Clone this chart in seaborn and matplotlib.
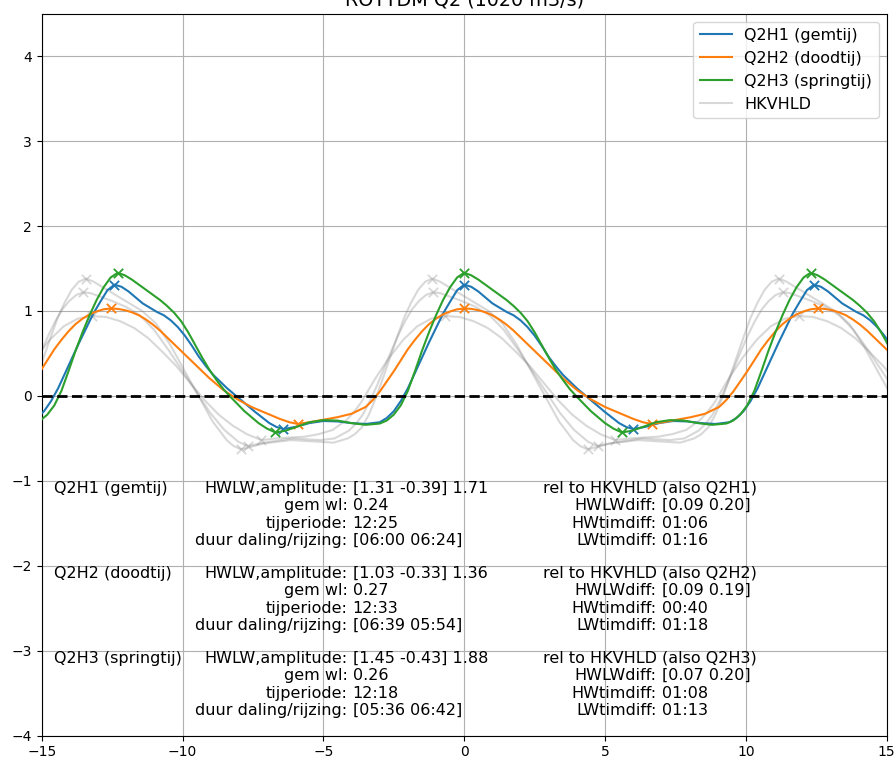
import numpy as np
import matplotlib
matplotlib.use("Agg")
import matplotlib.pyplot as plt
import matplotlib.transforms as mtransforms
import seaborn as sns

title = "ROTTDM Q2 (1020 m3/s)"
names = ["Q2H1 (gemtij)", "Q2H2 (doodtij)", "Q2H3 (springtij)"]
ref_name = "HKVHLD"
colors = ["#1f77b4", "#ff7f0e", "#2ca02c"]

# tidal statistics per scenario
hwlw = [[1.31, -0.39], [1.03, -0.33], [1.45, -0.43]]
amplitude = [1.71, 1.36, 1.88]
mean_wl = [0.24, 0.27, 0.26]
tide_period = ["12:25", "12:33", "12:18"]
fall_rise = [["06:00", "06:24"], ["06:39", "05:54"], ["05:36", "06:42"]]
hwlw_diff = [[0.09, 0.20], [0.09, 0.19], [0.07, 0.20]]
hw_timediff = ["01:06", "00:40", "01:08"]
lw_timediff = ["01:16", "01:18", "01:13"]

# one tidal cycle per scenario: hours relative to HW, previous LW -> next LW
q2h1_t = [-6.42, -6.0, -5.5, -5.0, -4.5, -4.0, -3.5, -3.0, -2.75, -2.5, -2.25, -2.0,
          -1.75, -1.5, -1.25, -1.0, -0.75, -0.5, -0.25, 0.0, 0.25, 0.5, 0.75, 1.0,
          1.25, 1.5, 1.75, 2.0, 2.25, 2.5, 2.75, 3.0, 3.25, 3.5, 3.75, 4.0, 4.5,
          5.0, 5.5, 5.75, 6.0]
q2h1_wl = [-0.39, -0.365, -0.32, -0.295, -0.30, -0.32, -0.33, -0.31, -0.26, -0.18, -0.06, 0.09,
           0.27, 0.45, 0.63, 0.80, 0.97, 1.11, 1.245, 1.31, 1.285, 1.23, 1.16, 1.09,
           1.04, 0.99, 0.95, 0.89, 0.81, 0.71, 0.59, 0.46, 0.35, 0.25, 0.17, 0.09, -0.05,
           -0.19, -0.32, -0.365, -0.39]

q2h2_t = [-5.9, -5.5, -5.0, -4.5, -4.0, -3.5, -3.25, -3.0, -2.75, -2.5, -2.25, -2.0,
          -1.75, -1.5, -1.25, -1.0, -0.75, -0.5, -0.25, 0.0, 0.25, 0.5, 0.75, 1.0,
          1.25, 1.5, 1.75, 2.0, 2.5, 3.0, 3.5, 4.0, 4.5, 5.0, 5.5, 6.0, 6.35, 6.65]
q2h2_wl = [-0.33, -0.31, -0.28, -0.25, -0.21, -0.13, -0.05, 0.05, 0.17, 0.29, 0.42, 0.55,
           0.66, 0.76, 0.845, 0.91, 0.96, 0.995, 1.02, 1.03, 1.025, 1.01, 0.985, 0.95,
           0.90, 0.84, 0.77, 0.69, 0.53, 0.37, 0.21, 0.07, -0.04, -0.13, -0.20, -0.27, -0.31, -0.33]

q2h3_t = [-6.7, -6.35, -6.0, -5.5, -5.0, -4.5, -4.0, -3.5, -3.0, -2.75, -2.5, -2.25,
          -2.0, -1.75, -1.5, -1.25, -1.0, -0.75, -0.5, -0.25, 0.0, 0.25, 0.5, 0.75,
          1.0, 1.25, 1.5, 1.75, 2.0, 2.25, 2.5, 2.75, 3.0, 3.25, 3.5, 3.75, 4.0,
          4.5, 5.0, 5.3, 5.6]
q2h3_wl = [-0.43, -0.41, -0.37, -0.31, -0.285, -0.29, -0.32, -0.34, -0.325, -0.29, -0.22, -0.11,
           0.06, 0.29, 0.53, 0.75, 0.95, 1.13, 1.28, 1.395, 1.45, 1.42, 1.37, 1.31,
           1.25, 1.19, 1.13, 1.06, 0.98, 0.88, 0.75, 0.60, 0.45, 0.31, 0.19, 0.08, -0.01,
           -0.18, -0.32, -0.385, -0.43]

# reference station HKVHLD, one cycle per scenario relative to its own HW
hkv1_t = [-6.58, -6.0, -5.0, -4.0, -3.5, -3.0, -2.75, -2.5, -2.25, -2.0, -1.75, -1.5,
          -1.25, -1.0, -0.75, -0.5, -0.25, 0.0, 0.25, 0.5, 1.0, 1.5, 2.0, 2.5, 3.0,
          3.5, 4.0, 4.5, 5.0, 5.5, 5.83]
hkv1_wl = [-0.59, -0.55, -0.50, -0.52, -0.50, -0.41, -0.33, -0.22, -0.06, 0.12, 0.32, 0.52,
           0.71, 0.88, 1.02, 1.12, 1.19, 1.22, 1.21, 1.18, 1.12, 1.05, 0.95, 0.78, 0.55,
           0.30, 0.05, -0.20, -0.40, -0.54, -0.59]

hkv2_t = [-6.53, -6.0, -5.0, -4.5, -4.0, -3.5, -3.25, -3.0, -2.75, -2.5, -2.0, -1.5,
          -1.0, -0.5, 0.0, 0.5, 1.0, 1.5, 2.0, 2.5, 3.0, 3.5, 4.0, 4.5, 5.0, 5.5, 6.02]
hkv2_wl = [-0.52, -0.50, -0.48, -0.45, -0.40, -0.28, -0.19, -0.08, 0.06, 0.20, 0.45, 0.66,
           0.82, 0.91, 0.94, 0.93, 0.88, 0.80, 0.68, 0.52, 0.35, 0.15, -0.05, -0.22, -0.35, -0.45, -0.52]

hkv3_t = [-6.78, -6.0, -5.0, -4.0, -3.5, -3.0, -2.75, -2.5, -2.25, -2.0, -1.75, -1.5,
          -1.25, -1.0, -0.75, -0.5, -0.25, 0.0, 0.25, 0.5, 1.0, 1.5, 2.0, 2.5, 3.0,
          3.5, 4.0, 4.5, 5.0, 5.25, 5.52]
hkv3_wl = [-0.63, -0.56, -0.52, -0.54, -0.55, -0.50, -0.45, -0.37, -0.22, -0.02, 0.21, 0.45,
           0.69, 0.92, 1.10, 1.25, 1.345, 1.38, 1.35, 1.30, 1.20, 1.10, 1.00, 0.85, 0.60,
           0.30, 0.00, -0.30, -0.52, -0.59, -0.63]

cycles = [(q2h1_t, q2h1_wl), (q2h2_t, q2h2_wl), (q2h3_t, q2h3_wl)]
ref_cycles = [(hkv1_t, hkv1_wl), (hkv2_t, hkv2_wl), (hkv3_t, hkv3_wl)]


def hours(hhmm):
    h, m = hhmm.split(":")
    return int(h) + int(m) / 60.0


def repeat_cycle(t, wl, period, shift=0.0, n=2):
    tt = np.concatenate([np.asarray(t) + shift + k * period for k in range(-n, n + 1)])
    ww = np.tile(np.asarray(wl), 2 * n + 1)
    return tt, ww


def extremes(t0, period, lo=-15.0, hi=15.0):
    tt = np.array([t0 + k * period for k in range(-3, 4)])
    return tt[(tt >= lo) & (tt <= hi)]


TXT = 11.5

fig = plt.figure(figsize=(8.96, 7.63), dpi=100)
ax = fig.add_axes([41.7 / 896, 27.3 / 763, 845 / 896, 722.0 / 763])

ref_color = "grey"
for i in range(3):
    period = hours(tide_period[i])
    t_lw = hours(fall_rise[i][0])
    hw, lw = hwlw[i]

    # scenario curve + HW/LW markers
    x, y = repeat_cycle(*cycles[i], period)
    sns.lineplot(x=x, y=y, ax=ax, color=colors[i], label=names[i], sort=False,
                 estimator=None, lw=1.5, zorder=3)
    xs = np.concatenate([extremes(0.0, period), extremes(t_lw, period)])
    ys = np.concatenate([np.full(len(extremes(0.0, period)), hw),
                         np.full(len(extremes(t_lw, period)), lw)])
    sns.scatterplot(x=xs, y=ys, ax=ax, color=colors[i], marker="x", s=45,
                    linewidth=1.3, zorder=3, legend=False)

for i in range(3):
    period = hours(tide_period[i])
    t_lw = hours(fall_rise[i][0])
    hw, lw = hwlw[i]
    ref_hw_t = -hours(hw_timediff[i])
    ref_lw_t = t_lw - hours(lw_timediff[i])
    ref_hw = hw - hwlw_diff[i][0]
    ref_lw = lw - hwlw_diff[i][1]

    x, y = repeat_cycle(*ref_cycles[i], period, shift=ref_hw_t)
    sns.lineplot(x=x, y=y, ax=ax, color=ref_color, alpha=0.3, sort=False,
                 estimator=None, lw=1.5, zorder=2,
                 label=ref_name if i == 0 else None)
    xs = np.concatenate([extremes(ref_hw_t, period), extremes(ref_lw_t, period)])
    ys = np.concatenate([np.full(len(extremes(ref_hw_t, period)), ref_hw),
                         np.full(len(extremes(ref_lw_t, period)), ref_lw)])
    sns.scatterplot(x=xs, y=ys, ax=ax, color=ref_color, alpha=0.3, marker="x", s=45,
                    linewidth=1.3, zorder=2, legend=False)

ax.axhline(0, color="k", ls="--", lw=2, zorder=4)

# statistics text blocks
gap = mtransforms.offset_copy(ax.transData, fig=fig, x=3.6, y=0, units="points")
x_name, x_key1, x_key2 = -14.55, -4.14, 6.84
for i in range(3):
    y0 = -1.0 - i
    hw, lw = hwlw[i]
    keys1 = ["HWLW,amplitude:", "gem wl:", "tijperiode:", "duur daling/rijzing:"]
    vals1 = [f"[{hw:.2f} {lw:.2f}] {amplitude[i]:.2f}", f"{mean_wl[i]:.2f}",
             tide_period[i], f"[{fall_rise[i][0]} {fall_rise[i][1]}]"]
    keys2 = [f"rel to {ref_name}", "HWLWdiff:", "HWtimdiff:", "LWtimdiff:"]
    vals2 = [f"(also {names[i].split()[0]})",
             f"[{hwlw_diff[i][0]:.2f} {hwlw_diff[i][1]:.2f}]",
             hw_timediff[i], lw_timediff[i]]
    ax.text(x_name, y0, names[i], ha="left", va="top", fontsize=TXT)
    ax.text(x_key1, y0, "\n".join(keys1), ha="right", va="top",
            multialignment="right", fontsize=TXT)
    ax.text(x_key1, y0, "\n".join(vals1), ha="left", va="top",
            multialignment="left", fontsize=TXT, transform=gap)
    ax.text(x_key2, y0, "\n".join(keys2), ha="right", va="top",
            multialignment="right", fontsize=TXT)
    ax.text(x_key2, y0, "\n".join(vals2), ha="left", va="top",
            multialignment="left", fontsize=TXT, transform=gap)

ax.set_xlim(-15, 15)
ax.set_ylim(-4, 4.5)
ax.set_xticks([-15, -10, -5, 0, 5, 10, 15])
ax.set_yticks([-4, -3, -2, -1, 0, 1, 2, 3, 4])
ax.grid(True)
ax.set_xlabel("")
ax.set_ylabel("")
ax.set_title(title, fontsize=13.8)
ax.legend(loc="upper right", fontsize=TXT)

fig.savefig("out.png", dpi=100)
